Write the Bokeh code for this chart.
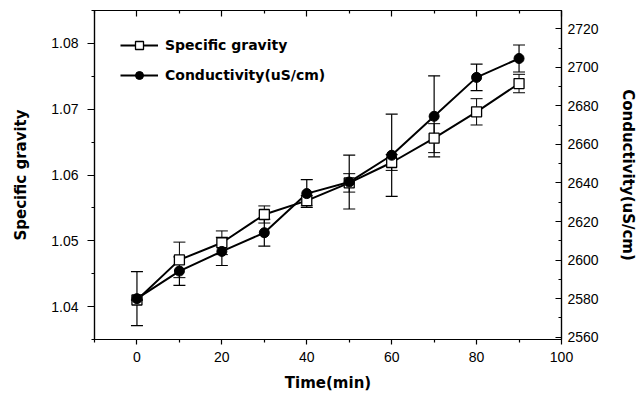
from bokeh.plotting import figure
from bokeh.models import (ColumnDataSource, Range1d, LinearAxis, Whisker, TeeHead,
                          Legend, LegendItem, FixedTicker, CustomJSTickFormatter)
from bokeh.embed import file_html
from bokeh.resources import INLINE

# ---- data ----
time_min = [0, 10, 20, 30, 40, 50, 60, 70, 80, 90]
specific_gravity = [1.0410, 1.0471, 1.0497, 1.0540, 1.0561, 1.0588, 1.0619, 1.0656, 1.0696, 1.0739]
sg_err = [0.0, 0.0027, 0.0018, 0.0013, 0.0008, 0.0014, 0.0012, 0.0022, 0.0020, 0.0014]
conductivity = [2580, 2594.3, 2604.5, 2614.2, 2634.5, 2640.5, 2654.4, 2674.6, 2694.8, 2704.6]
cond_err = [14, 7.4, 7.3, 7.0, 7.2, 14, 21.3, 21, 6.9, 7.0]

x_ticks = [0, 20, 40, 60, 80, 100]
sg_ticks = [1.04, 1.05, 1.06, 1.07, 1.08]
cond_ticks = [2560, 2580, 2600, 2620, 2640, 2660, 2680, 2700, 2720]

FONT = "Liberation Sans"
LABEL_FONT = "DejaVu Sans"

sg_src = ColumnDataSource(dict(
    t=time_min, y=specific_gravity,
    lo=[v - e for v, e in zip(specific_gravity, sg_err)],
    hi=[v + e for v, e in zip(specific_gravity, sg_err)]))
cd_src = ColumnDataSource(dict(
    t=time_min, y=conductivity,
    lo=[v - e for v, e in zip(conductivity, cond_err)],
    hi=[v + e for v, e in zip(conductivity, cond_err)]))

p = figure(frame_width=467, frame_height=329, output_backend="svg", toolbar_location=None,
           x_range=Range1d(-10, 100), y_range=Range1d(1.035, 1.085),
           min_border_left=94, min_border_right=76, min_border_top=10, min_border_bottom=60,
           x_axis_location=None, y_axis_location=None)
p.extra_y_ranges = {"cond": Range1d(2558.8, 2729.5)}
p.grid.visible = False
p.outline_line_color = "black"
p.outline_line_width = 1.2
p.background_fill_color = "white"
p.border_fill_color = "white"

def style_axis(ax, tick_in, tick_out):
    ax.axis_line_color = "black"
    ax.axis_line_width = 1.2
    ax.major_tick_in = tick_in
    ax.major_tick_out = tick_out
    ax.minor_tick_in = 3 if tick_in else 0
    ax.minor_tick_out = 3 if tick_out else 0
    ax.major_tick_line_width = 1.2
    ax.minor_tick_line_width = 1.2
    ax.major_label_text_font = FONT
    ax.major_label_text_font_size = "14px"
    ax.major_label_text_color = "black"
    ax.axis_label_text_font = LABEL_FONT
    ax.axis_label_text_font_style = "bold"
    ax.axis_label_text_font_size = "15px"
    ax.axis_label_text_color = "black"

# bottom axis
xb = LinearAxis(axis_label="Time(min)",
                ticker=FixedTicker(ticks=x_ticks, minor_ticks=[-10, 10, 30, 50, 70, 90]))
style_axis(xb, 0, 5)
xb.major_label_standoff = 7
xb.axis_label_standoff = 9
p.add_layout(xb, "below")

# top axis (ticks only)
xt = LinearAxis(ticker=FixedTicker(ticks=x_ticks, minor_ticks=[-10, 10, 30, 50, 70, 90]),
                formatter=CustomJSTickFormatter(code="return ''"))
style_axis(xt, 6, 0)
xt.major_label_standoff = 0
p.add_layout(xt, "above")

# left axis
yl = LinearAxis(axis_label="Specific gravity",
                ticker=FixedTicker(ticks=sg_ticks, minor_ticks=[1.035, 1.045, 1.055, 1.065, 1.075, 1.085]))
style_axis(yl, 0, 7)
yl.major_label_standoff = 9
yl.axis_label_standoff = 18
p.add_layout(yl, "left")

# right axis
yr = LinearAxis(y_range_name="cond", axis_label="Conductivity(uS/cm)",
                ticker=FixedTicker(ticks=cond_ticks,
                                   minor_ticks=[2570, 2590, 2610, 2630, 2650, 2670, 2690, 2710, 2730]))
style_axis(yr, 6, 0)
yr.major_label_standoff = 6
yr.axis_label_standoff = 17
p.add_layout(yr, "right")

# error bars
p.add_layout(Whisker(source=cd_src, base="t", upper="hi", lower="lo", y_range_name="cond",
                     line_color="black", line_width=1.2,
                     upper_head=TeeHead(size=12, line_width=1.2, line_color="black"),
                     lower_head=TeeHead(size=12, line_width=1.2, line_color="black")))
p.add_layout(Whisker(source=sg_src, base="t", upper="hi", lower="lo",
                     line_color="black", line_width=1.0,
                     upper_head=TeeHead(size=12, line_width=1.0, line_color="black"),
                     lower_head=TeeHead(size=12, line_width=1.0, line_color="black")))

# lines & markers
sg_line = p.line("t", "y", source=sg_src, line_color="black", line_width=2)
cd_line = p.line("t", "y", source=cd_src, y_range_name="cond", line_color="black", line_width=2)
sg_mk = p.scatter("t", "y", source=sg_src, marker="square", size=10,
                  fill_color="white", line_color="black", line_width=1.3)
cd_mk = p.scatter("t", "y", source=cd_src, y_range_name="cond", marker="circle", size=10,
                  fill_color="black", line_color="black")

legend = Legend(items=[LegendItem(label="Specific gravity", renderers=[sg_line, sg_mk]),
                       LegendItem(label="Conductivity(uS/cm)", renderers=[cd_line, cd_mk])],
                location=(26, 254), padding=0, margin=0, spacing=10,
                glyph_width=38, glyph_height=20, label_standoff=7,
                border_line_color=None, background_fill_alpha=0,
                label_text_font=LABEL_FONT, label_text_font_style="bold",
                label_text_font_size="14px", label_text_color="black")
p.add_layout(legend, "center")

open("out.html", "w").write(file_html(p, INLINE))
